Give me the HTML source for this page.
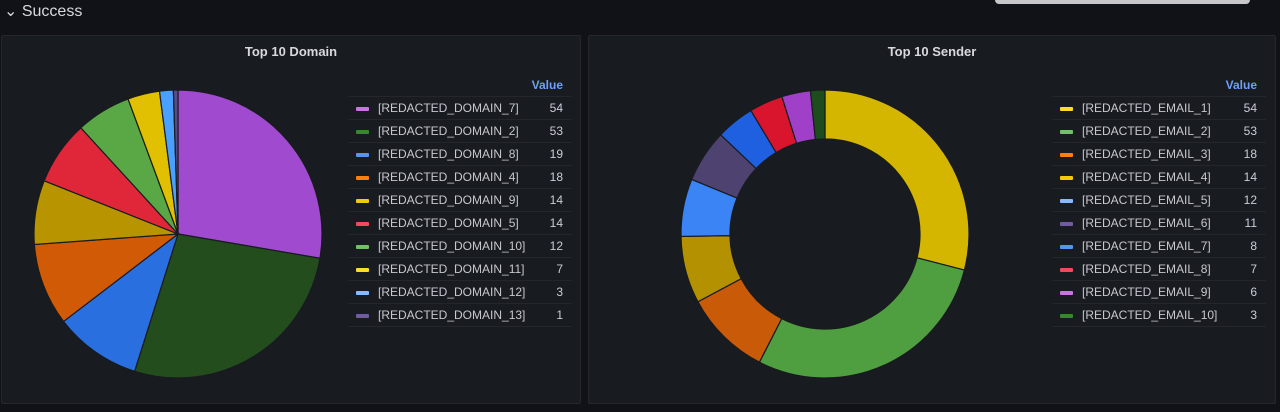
<!DOCTYPE html><html><head><style>
body{margin:0;width:1280px;height:412px;background:#111217;font-family:"Liberation Sans",sans-serif;overflow:hidden;position:relative;color:#ccccdc}
.hdr{position:absolute;left:4px;top:1px;font-size:16px;color:#d8d9e0}
.box{position:absolute;left:995px;top:-6px;width:255px;height:10px;background:#c7c7c9;border-radius:4px}
.panel{position:absolute;top:35px;height:367px;background:#181b1f;border:1px solid #25272c;border-radius:2px}
.title{position:absolute;top:8px;width:100%;text-align:center;font-size:13px;font-weight:bold;color:#d8d9e0}
.leg{position:absolute;font-size:12px}
.leg .h{height:22px;text-align:right;color:#6e9fff;font-weight:bold;padding-right:9px;line-height:22px}
.leg .r{height:22px;border-top:1px solid #24262b;position:relative;line-height:22px}
.leg .sw{position:absolute;left:8px;top:10px;width:13px;height:4px;border-radius:1px}
.leg .n{position:absolute;left:30px;color:#c7c8d0}
.leg .v{position:absolute;right:9px}
</style></head><body>
<div class="hdr">⌄ Success</div><div class="box"></div>
<div class="panel" style="left:1px;width:578px"><div class="title">Top 10 Domain</div></div>
<div class="panel" style="left:588px;width:686px"><div class="title">Top 10 Sender</div></div>
<svg id="s" width="1280" height="412" style="position:absolute;left:0;top:0"></svg>
<div class="leg" id="l1" style="left:348px;top:74px;width:224px"></div>
<div class="leg" id="l2" style="left:1052px;top:74px;width:214px"></div>
<script>
const d1=[["[REDACTED_DOMAIN_7]",54,"#a04ad0","#c676dc"],["[REDACTED_DOMAIN_2]",53,"#244d1d","#37872d"],["[REDACTED_DOMAIN_8]",19,"#2a6fe0","#5794f2"],["[REDACTED_DOMAIN_4]",18,"#d05a05","#ff7f0e"],["[REDACTED_DOMAIN_9]",14,"#b89500","#f2cc0c"],["[REDACTED_DOMAIN_5]",14,"#e0273a","#f2495c"],["[REDACTED_DOMAIN_10]",12,"#5aa845","#73bf69"],["[REDACTED_DOMAIN_11]",7,"#e0c000","#fade2a"],["[REDACTED_DOMAIN_12]",3,"#4aa0ff","#8ab8ff"],["[REDACTED_DOMAIN_13]",1,"#5a4a8a","#705da0"]];
const d2=[["[REDACTED_EMAIL_1]",54,"#d4b500","#fade2a"],["[REDACTED_EMAIL_2]",53,"#4f9e3f","#73bf69"],["[REDACTED_EMAIL_3]",18,"#c85a08","#ff7f0e"],["[REDACTED_EMAIL_4]",14,"#b39100","#f2cc0c"],["[REDACTED_EMAIL_5]",12,"#3a84f5","#8ab8ff"],["[REDACTED_EMAIL_6]",11,"#4e4270","#705da0"],["[REDACTED_EMAIL_7]",8,"#1f60e0","#5794f2"],["[REDACTED_EMAIL_8]",7,"#d8152c","#f2495c"],["[REDACTED_EMAIL_9]",6,"#a040c8","#c676dc"],["[REDACTED_EMAIL_10]",3,"#1d4d1d","#37872d"]];
const s=document.getElementById('s');let h='';
function pie(d,cx,cy,R,r){const t=d.reduce((a,b)=>a+b[1],0);let a=-Math.PI/2;
for(const e of d){const b=a+e[1]/t*2*Math.PI,L=(b-a)>Math.PI?1:0;
const p=(rr,an)=>(cx+rr*Math.cos(an)).toFixed(2)+","+(cy+rr*Math.sin(an)).toFixed(2);
let path=r?`M${p(R,a)}A${R},${R} 0 ${L} 1 ${p(R,b)}L${p(r,b)}A${r},${r} 0 ${L} 0 ${p(r,a)}Z`:`M${cx},${cy}L${p(R,a)}A${R},${R} 0 ${L} 1 ${p(R,b)}Z`;
h+=`<path d="${path}" fill="${e[2]}" stroke="#181b1f" stroke-width="1.2"/>`;a=b;}}
pie(d1,178,234,144,0);pie(d2,825,234,144,95);s.innerHTML=h;
function leg(id,d){let x='<div class="h">Value</div>';for(const e of d)x+=`<div class="r"><span class="sw" style="background:${e[3]}"></span><span class="n">${e[0]}</span><span class="v">${e[1]}</span></div>`;
x+='<div class="r" style="height:0"></div>';document.getElementById(id).innerHTML=x;}
leg('l1',d1);leg('l2',d2);
</script></body></html>
